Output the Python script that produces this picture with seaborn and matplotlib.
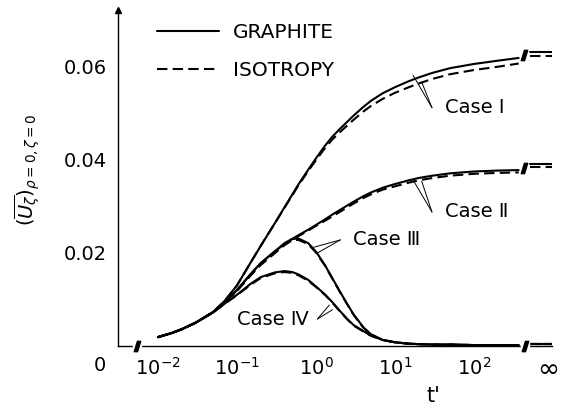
import numpy as np
import pandas as pd
import matplotlib
matplotlib.use("Agg")
import matplotlib.pyplot as plt
from matplotlib.lines import Line2D
import seaborn as sns

# Dimensionless time t' (log scale) and centre-line values of (U_zeta)
t = [0.01, 0.015, 0.02, 0.03, 0.05, 0.07, 0.1, 0.15, 0.2, 0.3, 0.4, 0.5, 0.6, 0.8,
     1, 1.3, 1.6, 2, 2.5, 3, 4, 5, 7, 10, 15, 20, 30, 50, 100, 200, 370]

case1_graphite = [0.0019, 0.0028, 0.0036, 0.0050, 0.0073, 0.0097, 0.0130, 0.0180, 0.0215,
                  0.0263, 0.0298, 0.0325, 0.0347, 0.0379, 0.0403, 0.0430, 0.0449, 0.0466,
                  0.0482, 0.0495, 0.0514, 0.0527, 0.0543, 0.0556, 0.0569, 0.0577, 0.0587,
                  0.0597, 0.0606, 0.0613, 0.0619]
case1_isotropy = [0.0019, 0.0028, 0.0036, 0.0050, 0.0073, 0.0097, 0.0130, 0.0180, 0.0215,
                  0.0263, 0.0297, 0.0323, 0.0345, 0.0376, 0.0399, 0.0425, 0.0443, 0.0459,
                  0.0474, 0.0486, 0.0504, 0.0516, 0.0531, 0.0544, 0.0556, 0.0564, 0.0574,
                  0.0584, 0.0593, 0.0600, 0.0607]
case2_graphite = [0.0019, 0.0028, 0.0036, 0.0050, 0.0073, 0.0094, 0.0120, 0.0155, 0.0178,
                  0.0203, 0.0219, 0.0230, 0.0238, 0.0250, 0.0260, 0.0272, 0.0282, 0.0292,
                  0.0302, 0.0310, 0.0322, 0.0330, 0.0340, 0.0348, 0.0356, 0.0361, 0.0366,
                  0.0371, 0.0375, 0.0377, 0.0378]
case2_isotropy = [0.0019, 0.0028, 0.0036, 0.0050, 0.0073, 0.0094, 0.0119, 0.0153, 0.0176,
                  0.0201, 0.0217, 0.0228, 0.0236, 0.0248, 0.0258, 0.0269, 0.0278, 0.0288,
                  0.0298, 0.0306, 0.0318, 0.0326, 0.0336, 0.0343, 0.0351, 0.0356, 0.0361,
                  0.0366, 0.0370, 0.0372, 0.0373]
case3_graphite = [0.0019, 0.0028, 0.0036, 0.0050, 0.0073, 0.0094, 0.0120, 0.0155, 0.0178,
                  0.0203, 0.0221, 0.0230, 0.0231, 0.0221, 0.0203, 0.0174, 0.0147, 0.0118,
                  0.0090, 0.0068, 0.0040, 0.0025, 0.0013, 0.0008, 0.0005, 0.0004, 0.0003,
                  0.0003, 0.0002, 0.0002, 0.0002]
case3_isotropy = [0.0019, 0.0028, 0.0036, 0.0050, 0.0073, 0.0094, 0.0118, 0.0152, 0.0174,
                  0.0199, 0.0217, 0.0227, 0.0228, 0.0219, 0.0201, 0.0173, 0.0146, 0.0117,
                  0.0089, 0.0067, 0.0039, 0.0025, 0.0013, 0.0008, 0.0005, 0.0004, 0.0003,
                  0.0003, 0.0002, 0.0002, 0.0002]
case4_graphite = [0.0019, 0.0028, 0.0036, 0.0050, 0.0072, 0.0091, 0.0110, 0.0134, 0.0148,
                  0.0158, 0.0161, 0.0159, 0.0154, 0.0142, 0.0128, 0.0111, 0.0095, 0.0076,
                  0.0058, 0.0045, 0.0032, 0.0022, 0.0013, 0.0008, 0.0005, 0.0004, 0.0003,
                  0.0003, 0.0002, 0.0002, 0.0002]
case4_isotropy = [0.0019, 0.0028, 0.0036, 0.0050, 0.0072, 0.0091, 0.0109, 0.0132, 0.0146,
                  0.0156, 0.0159, 0.0157, 0.0152, 0.0140, 0.0127, 0.0110, 0.0094, 0.0075,
                  0.0057, 0.0044, 0.0031, 0.0022, 0.0013, 0.0008, 0.0005, 0.0004, 0.0003,
                  0.0003, 0.0002, 0.0002, 0.0002]

# Steady-state (t' -> infinity) values
inf_graphite = [0.0632, 0.0391, 0.0004, 0.0004]
inf_isotropy = [0.0624, 0.0384, 0.0004, 0.0004]
t_inf = [10**2.71, 10**2.99]   # where the "infinity" stub is drawn

case_names = ["Case \u2160", "Case \u2161", "Case \u2162", "Case \u2163"]
x_tick_values = [1e-2, 1e-1, 1e0, 1e1, 1e2]
x_tick_labels = [r"$10^{-2}$", r"$10^{-1}$", r"$10^{0}$", r"$10^{1}$", r"$10^{2}$"]
y_tick_values = [0.02, 0.04, 0.06]
y_tick_labels = ["0.02", "0.04", "0.06"]

graphite = [case1_graphite, case2_graphite, case3_graphite, case4_graphite]
isotropy = [case1_isotropy, case2_isotropy, case3_isotropy, case4_isotropy]

rows = []
for i, name in enumerate(case_names):
    for model, series, inf_vals in (("GRAPHITE", graphite[i], inf_graphite),
                                    ("ISOTROPY", isotropy[i], inf_isotropy)):
        for tv, uv in zip(t, series):
            rows.append((tv, uv, name, model, "finite"))
        for tv in t_inf:
            rows.append((tv, inf_vals[i], name, model, "inf"))
df = pd.DataFrame(rows, columns=["t", "U", "case", "model", "segment"])

sns.set_theme(style="white")
plt.rcParams["font.family"] = ["DejaVu Sans"]
plt.rcParams["mathtext.fontset"] = "dejavusans"
for key in ("text.color", "axes.labelcolor", "xtick.color", "ytick.color"):
    plt.rcParams[key] = "black"

fig = plt.figure(figsize=(5.72, 4.17), dpi=100)
ax = fig.add_axes([118 / 572, 1 - 346 / 417, 434 / 572, 336 / 417])

for (name, model, seg), g in df.groupby(["case", "model", "segment"], sort=False):
    ls = "-" if model == "GRAPHITE" else (0, (5, 2.5))
    sns.lineplot(data=g, x="t", y="U", ax=ax, color="black", lw=1.5,
                 linestyle=ls, estimator=None, sort=True, legend=False)

ax.set_xscale("log")
ax.set_xlim(10**-2.506, 10**2.99)
ax.set_ylim(0, 0.0722)

ax.set_xticks(x_tick_values)
ax.set_xticklabels(x_tick_labels, fontsize=14)
ax.xaxis.set_minor_locator(matplotlib.ticker.NullLocator())
ax.set_yticks(y_tick_values)
ax.set_yticklabels(y_tick_labels, fontsize=14)
ax.tick_params(axis="x", direction="in", length=4, width=0.8, pad=8)
ax.tick_params(axis="y", direction="out", length=4, width=0.8, pad=4)

for side in ("top", "right"):
    ax.spines[side].set_visible(False)
for side in ("left", "bottom"):
    ax.spines[side].set_color("black")
    ax.spines[side].set_linewidth(1.0)

# arrow head on the vertical axis
ax.plot([0], [1.0], marker="^", ms=5, color="black", transform=ax.transAxes, clip_on=False)

# origin and infinity labels on the time axis
ax.text(10**-2.73, -0.0042, "0", ha="center", va="center", fontsize=14)
ax.text(10**2.94, -0.0050, r"$\infty$", ha="center", va="center", fontsize=19)

ax.set_xlabel("t'", fontsize=15)
ax.xaxis.set_label_coords((433 - 118) / 434, (346 - 386) / 336)
ax.set_ylabel(r"$(\overline{U_\zeta})_{\rho=0,\zeta=0}$", fontsize=14)
ax.yaxis.set_label_coords((43 - 118) / 434, (346 - 170) / 336)

# axis / curve breaks
for xb, yb in ((10**-2.27, 0.0), (10**2.65, 0.0), (10**2.64, 0.0625), (10**2.64, 0.0382)):
    ax.plot([xb], [yb], marker="s", ms=6, mfc="white", mec="white", clip_on=False, zorder=4)
    ax.plot([xb], [yb], marker=r"$/\!/$", ms=7.5, color="black", clip_on=False, zorder=5)

# case labels with pointer wedges
labels = [("Case \u2160", 10**1.63, 0.0512, [(10**1.23, 0.0582), (10**1.34, 0.0567)], 10**1.47),
          ("Case \u2161", 10**1.63, 0.0288, [(10**1.23, 0.0357), (10**1.34, 0.0354)], 10**1.47),
          ("Case \u2162", 10**0.47, 0.0228, [(10**-0.03, 0.0212), (10**0.02, 0.0200)], 10**0.31),
          ("Case \u2163", 10**-1.0, 0.0058, [(10**0.17, 0.0088), (10**0.21, 0.0078)], 10**0.02)]
for text, xt, yt, pts, xtip in labels:
    ax.text(xt, yt, text, fontsize=14, va="center", ha="left")
    for px, py in pts:
        ax.plot([xtip, px], [yt, py], color="black", lw=0.7)

handles = [Line2D([], [], color="black", lw=1.5, linestyle="-"),
           Line2D([], [], color="black", lw=1.5, linestyle=(0, (5, 2.5)))]
ax.legend(handles, ["GRAPHITE", "ISOTROPY"], loc="upper left",
          bbox_to_anchor=((157 - 118) / 434, (346 - 23) / 336), frameon=False,
          fontsize=14.5, handlelength=3.1, handletextpad=0.65, labelspacing=0.95,
          borderpad=0, borderaxespad=0)

fig.savefig("out.png", dpi=100, facecolor="white")
